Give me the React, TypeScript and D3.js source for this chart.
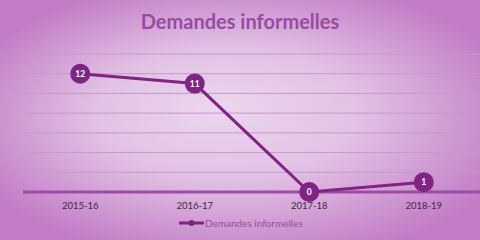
import React from "react";
import * as d3 from "d3";

const categories = ["2015-16", "2016-17", "2017-18", "2018-19"];
const values = [12, 11, 0, 1];
const yTicks = [0, 2, 4, 6, 8, 10, 12, 14];
const seriesName = "Demandes informelles";
const title = "Demandes informelles";

const W = 480;
const H = 240;
const margin = { left: 23, right: -1, top: 54, bottom: 48 };

export default function App() {
  const x = d3
    .scaleBand<string>()
    .domain(categories)
    .range([margin.left, W - margin.right])
    .padding(0);
  const y = d3
    .scaleLinear()
    .domain([0, 14])
    .range([H - margin.bottom, margin.top]);
  const cx = (c: string) => (x(c) ?? 0) + x.bandwidth() / 2;
  const line = d3
    .line<number>()
    .x((_, i) => cx(categories[i]))
    .y((d) => y(d));
  const lineColor = "#7F2483";
  return (
    <svg
      width={W}
      height={H}
      style={{ position: "absolute", left: 0, top: 0, display: "block" }}
    >
      <defs>
        <radialGradient id="bg" cx="50%" cy="50%" r="60%" fx="45%" fy="45%">
          <stop offset="0%" stopColor="#ECD6EE" />
          <stop offset="45%" stopColor="#E2C2E4" />
          <stop offset="100%" stopColor="#C27CC6" />
        </radialGradient>
      </defs>
      <rect x={0} y={0} width={W} height={H} fill="url(#bg)" />
      <text
        x={240}
        y={28.5}
        textAnchor="middle"
        fontFamily="Lato, 'Open Sans', sans-serif"
        fontWeight="bold"
        fontSize={20}
        fill="#9A4AA2"
      >
        {title}
      </text>
      {yTicks
        .filter((t) => t > 0)
        .map((t) => (
          <line
            key={t}
            x1={margin.left}
            x2={W - margin.right}
            y1={y(t)}
            y2={y(t)}
            stroke="#C699CB"
            strokeWidth={1}
          />
        ))}
      <line
        x1={margin.left}
        x2={W - margin.right}
        y1={y(0)}
        y2={y(0)}
        stroke="#9E4BA8"
        strokeWidth={3}
      />
      {categories.map((c) => (
        <text
          key={c}
          x={cx(c)}
          y={209}
          textAnchor="middle"
          fontFamily="Lato, 'Open Sans', sans-serif"
          fontSize={9.5}
          fill="#3D2A40"
        >
          {c}
        </text>
      ))}
      <path d={line(values) ?? ""} fill="none" stroke={lineColor} strokeWidth={3} />
      {values.map((v, i) => (
        <g key={i}>
          <circle cx={cx(categories[i])} cy={y(v)} r={10} fill={lineColor} />
          <text
            x={cx(categories[i])}
            y={y(v) + 3}
            textAnchor="middle"
            fontFamily="Lato, 'Open Sans', sans-serif"
            fontWeight="bold"
            fontSize={8.5}
            fill="#FFFFFF"
          >
            {v}
          </text>
        </g>
      ))}
      <g>
        <line x1={179} x2={204} y1={223} y2={223} stroke={lineColor} strokeWidth={3} />
        <circle cx={191.5} cy={223} r={3} fill={lineColor} />
        <text
          x={205}
          y={226.5}
          fontFamily="Lato, 'Open Sans', sans-serif"
          fontSize={10}
          fill="#9A4AA2"
        >
          {seriesName}
        </text>
      </g>
    </svg>
  );
}
